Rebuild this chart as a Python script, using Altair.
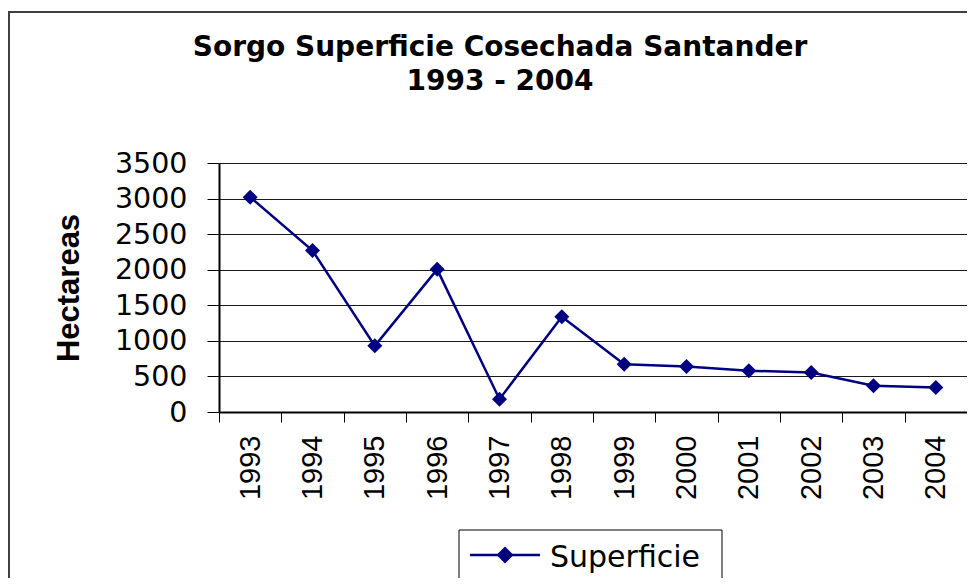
import altair as alt
import pandas as pd

years = ["1993", "1994", "1995", "1996", "1997", "1998",
         "1999", "2000", "2001", "2002", "2003", "2004"]
hectareas = [3020, 2270, 930, 2005, 180, 1340, 670, 640, 580, 555, 370, 345]
series_name = "Superficie"
title_lines = ["Sorgo Superficie Cosechada Santander", "1993 - 2004"]
y_title = "Hectareas"
y_ticks = [0, 500, 1000, 1500, 2000, 2500, 3000, 3500]

df = pd.DataFrame({"Año": years, "Hectareas": hectareas})

NAVY = "#000080"
one = alt.Data(values=[{}])

x_enc = alt.X(
    "Año:O",
    sort=years,
    bandPosition=0.5,
    scale=alt.Scale(type="band", paddingInner=0, paddingOuter=0),
    axis=alt.Axis(
        title=None, labelAngle=270, labelAlign="right", labelBaseline="middle",
        labelFont="Liberation Sans", labelFontSize=29, labelColor="black",
        labelPadding=13, tickBand="extent", tickSize=10, tickColor="black",
        tickWidth=1, domainColor="black", domainWidth=2, grid=False,
    ),
)
y_enc = alt.Y(
    "Hectareas:Q",
    scale=alt.Scale(domain=[0, 3500], nice=False),
    axis=alt.Axis(
        title=y_title, values=y_ticks, format="d",
        labelFont="DejaVu Sans", labelFontSize=28.5, labelColor="black",
        labelPadding=20, tickSize=12, tickColor="black", tickWidth=1,
        domainColor="black", domainWidth=2,
        gridColor="#1a1a1a", gridWidth=1,
        titleFont="Liberation Sans", titleFontSize=31, titleFontWeight="bold",
        titleColor="black", titleAngle=270, titleX=-141, titleY=124.5,
        titleAlign="center", titleBaseline="alphabetic",
    ),
)

# outer chart frame
frame = alt.Chart(one).mark_rect(
    fill="transparent", stroke="#404040", strokeWidth=2
).encode(x=alt.value(-210), x2=alt.value(900), y=alt.value(-151), y2=alt.value(600))

# title (two lines)
title1 = alt.Chart(one).mark_text(
    font="DejaVu Sans", fontSize=28, fontWeight="bold", color="black",
    align="center", baseline="alphabetic"
).encode(x=alt.value(281), y=alt.value(-107), text=alt.value(title_lines[0]))
title2 = alt.Chart(one).mark_text(
    font="DejaVu Sans", fontSize=28, fontWeight="bold", color="black",
    align="center", baseline="alphabetic"
).encode(x=alt.value(281), y=alt.value(-73), text=alt.value(title_lines[1]))

line = alt.Chart(df).mark_line(strokeWidth=2.5, color=NAVY).encode(x=x_enc, y=y_enc)
points = alt.Chart(df).mark_point(
    shape="diamond", filled=True, size=225, color=NAVY, opacity=1
).encode(x=x_enc, y=y_enc)

# legend
leg_box = alt.Chart(one).mark_rect(
    fill="white", stroke="black", strokeWidth=1
).encode(x=alt.value(240), x2=alt.value(503), y=alt.value(367), y2=alt.value(419))
leg_line = alt.Chart(one).mark_rule(color=NAVY, strokeWidth=2.5).encode(
    x=alt.value(251), x2=alt.value(321), y=alt.value(392))
leg_pt = alt.Chart(one).mark_point(
    shape="diamond", filled=True, size=289, color=NAVY, opacity=1
).encode(x=alt.value(286), y=alt.value(392))
leg_txt = alt.Chart(one).mark_text(
    font="DejaVu Sans", fontSize=30, color="black", align="left", baseline="alphabetic"
).encode(x=alt.value(331), y=alt.value(404), text=alt.value(series_name))

chart = alt.layer(
    line, points, frame, title1, title2, leg_box, leg_line, leg_pt, leg_txt
).properties(
    width=748,
    height=249,
    autosize=alt.AutoSizeParams(type="none"),
    padding={"left": 211, "top": 155, "right": 0, "bottom": 166},
).configure_view(
    fill="#C0C0C0", stroke="#808080", strokeWidth=2
).configure(background="white")

chart.save("out.html", embed_options={"renderer": "svg", "actions": False})
